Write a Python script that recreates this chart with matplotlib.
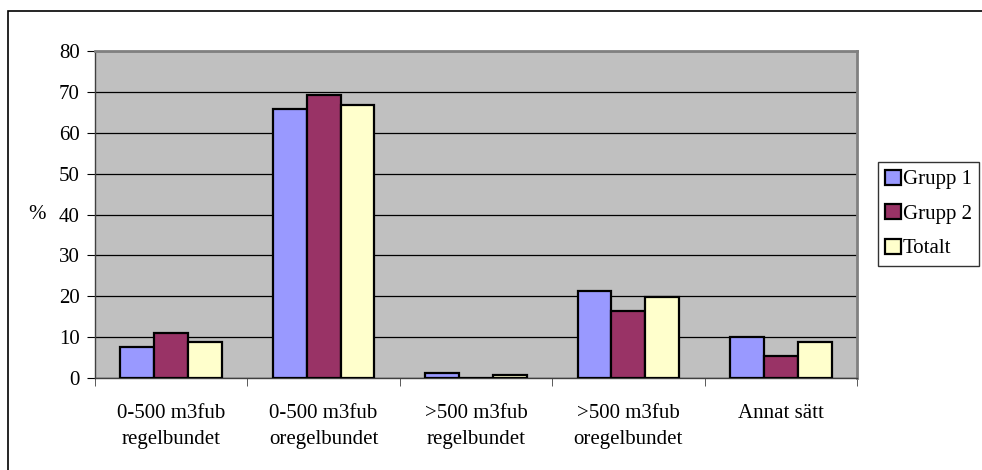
import matplotlib.pyplot as plt
import numpy as np
from matplotlib.patches import Rectangle

categories = ["0-500 m3fub\nregelbundet", "0-500 m3fub\noregelbundet",
              ">500 m3fub\nregelbundet", ">500 m3fub\noregelbundet", "Annat sätt"]
grupp1 = [7.6, 65.8, 1.3, 21.3, 10.1]
grupp2 = [11.1, 69.3, 0.0, 16.4, 5.4]
totalt = [8.8, 66.7, 0.8, 19.8, 8.7]
series_names = ["Grupp 1", "Grupp 2", "Totalt"]
yticks = [0, 10, 20, 30, 40, 50, 60, 70, 80]


def main():
    plt.rcParams['font.family'] = ['Liberation Serif', 'DejaVu Serif']
    plt.rcParams['font.size'] = 15

    fig = plt.figure(figsize=(9.82, 4.70), dpi=100)
    ax = fig.add_axes([95/982, 1-378/470, (857-95)/982, (378-51)/470])

    # outer frame of the chart
    fig.patches.append(Rectangle((8/982, -0.1), 1.1, 1.1 - 11/470,
                                 transform=fig.transFigure, fill=False,
                                 edgecolor="black", linewidth=1.2))

    x = np.arange(len(categories))
    w = 0.222
    colors = ["#9999FF", "#993366", "#FFFFCC"]
    for i, (vals, name) in enumerate(zip([grupp1, grupp2, totalt], series_names)):
        ax.bar(x + (i - 1) * w, vals, width=w, color=colors[i], edgecolor="black",
               linewidth=1.6, label=name, zorder=3)

    ax.set_facecolor("#C0C0C0")
    ax.set_xlim(-0.5, len(categories) - 0.5)
    ax.set_ylim(0, 80)
    ax.set_yticks(yticks)
    ax.yaxis.grid(True, color="black", linewidth=0.9, zorder=0)
    ax.set_axisbelow(True)

    ax.set_xticks(x)
    ax.set_xticklabels(categories, linespacing=1.45)
    ax.set_xticks(np.arange(len(categories) + 1) - 0.5, minor=True)
    ax.tick_params(axis="x", which="major", length=0, pad=19)
    ax.tick_params(axis="x", which="minor", length=6, direction="out", color="#404040")
    ax.tick_params(axis="y", length=6, direction="out", pad=5)

    for s in ["top", "right"]:
        ax.spines[s].set_color("#808080")
        ax.spines[s].set_linewidth(2)
    for s in ["left", "bottom"]:
        ax.spines[s].set_color("#404040")
        ax.spines[s].set_linewidth(1)

    ax.set_ylabel("%", rotation=0, va="center", ha="right")
    ax.yaxis.set_label_coords(-0.064, 0.5)

    leg = fig.legend(loc="center left", bbox_to_anchor=(878/982, 1-214/470),
                     frameon=True, fancybox=False, edgecolor="black",
                     handlelength=0.75, handleheight=0.75, handletextpad=0.1,
                     labelspacing=0.7, borderpad=0.35, borderaxespad=0)
    leg.get_frame().set_linewidth(1)

    fig.savefig("out.png", dpi=100, facecolor="white")


if __name__ == '__main__':
    main()
